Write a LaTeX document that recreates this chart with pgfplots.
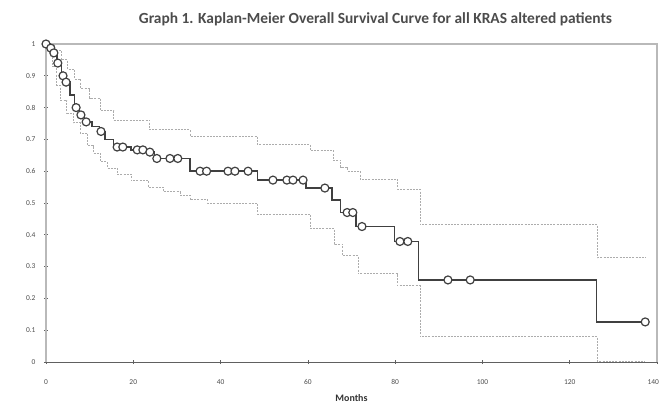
\documentclass[border=0pt]{standalone}
\usepackage{fontspec}
\setmainfont{Carlito}
\usepackage{pgfplots}
\pgfplotsset{compat=1.18}
\begin{document}
\begin{tikzpicture}
\path[use as bounding box] (-46bp,-42bp) rectangle (615bp,362bp);
\begin{axis}[
  at={(0,0)}, anchor=south west,
  scale only axis, width=611bp, height=318bp,
  xmin=0, xmax=140, ymin=0, ymax=1,
  axis lines=left,
  axis line style={-, gray!75!black, line width=0.9bp},
  xtick={0,20,40,60,80,100,120,140},
  xticklabels={0,20,40,60,80,100,120,{\llap{14}0}},
  ytick={0,0.1,0.2,0.3,0.4,0.5,0.6,0.7,0.8,0.9,1},
  yticklabels={0,0.1,0.2,0.3,0.4,0.5,0.6,0.7,0.8,0.9,1},
  tick align=center, major tick length=4bp,
  tick style={gray!75!black, line width=0.6bp},
  /pgf/number format/assume math mode=true,
  ticklabel style={font=\fontsize{7.5}{9}\selectfont, text=gray!60!black},
  xticklabel style={yshift=-12bp},
  yticklabel style={xshift=-5bp},
  xlabel={Months},
  xlabel style={at={(axis description cs:0.5,0)}, anchor=center, yshift=-36bp, font=\bfseries\fontsize{10}{12}\selectfont, text=black!80},
  clip=false,
]
\draw[gray!55, line width=1.3bp] (rel axis cs:0,0) -- (rel axis cs:0,1) -- (rel axis cs:1,1) -- (rel axis cs:1,0);
% upper confidence limit
\addplot[const plot, gray!65, line width=0.9bp, dash pattern=on 2bp off 1.2bp] coordinates {
(0,1) (2,0.98) (3.5,0.95) (5,0.92) (6.5,0.89) (8,0.86) (10,0.83) (12.4,0.79)
(15.5,0.76) (23.8,0.73) (33,0.71) (48.4,0.685) (60.5,0.666) (65.8,0.635)
(67.5,0.613) (69,0.6) (72,0.575) (80.5,0.544) (85.7,0.432) (126.3,0.328) (137.3,0.328)};
% lower confidence limit
\addplot[const plot, gray!65, line width=0.9bp, dash pattern=on 2bp off 1.2bp] coordinates {
(0,1) (1.5,0.93) (2.5,0.87) (3.2,0.824) (4.8,0.783) (6.2,0.752) (7.8,0.72)
(9.5,0.68) (10.8,0.657) (12.4,0.63) (14,0.61) (16.3,0.59) (19.5,0.57)
(23.5,0.55) (26.8,0.535) (30.7,0.525) (33,0.51) (37,0.5) (48.4,0.465)
(60.5,0.42) (66,0.37) (68,0.334) (71.5,0.278) (80.5,0.24) (85.7,0.079)
(126.3,0.003) (137.3,0.003)};
% survival
\addplot[const plot, black!75, line width=1.4bp] coordinates {
(0,1) (1.0,0.987) (1.6,0.972) (2.5,0.94) (3.5,0.90) (4.3,0.88) (5.5,0.84)
(6.5,0.80) (7.7,0.777) (8.8,0.755) (10.5,0.74) (12.2,0.725) (13.5,0.70)
(15.5,0.676) (19.5,0.667) (23.0,0.66) (24.8,0.64) (33.0,0.60) (48.4,0.572)
(59.6,0.547) (65.5,0.51) (67.5,0.47) (71.0,0.426) (79.9,0.379) (85.4,0.258)
(126.2,0.126) (137.3,0.126)};
% censored
\addplot[only marks, mark=*, mark size=4bp, mark options={fill=white, draw=black!75, line width=1.2bp}] coordinates {
(0,1.0) (1.1,0.987) (1.8,0.972) (2.7,0.94) (3.9,0.90) (4.6,0.88) (6.9,0.80)
(8.0,0.777) (9.2,0.755) (12.6,0.725) (16.3,0.676) (17.6,0.676) (20.9,0.667)
(22.2,0.667) (23.8,0.66) (25.4,0.64) (28.4,0.64) (30.2,0.64) (35.3,0.6)
(36.8,0.6) (41.7,0.6) (43.3,0.6) (46.3,0.6) (52.0,0.572) (55.2,0.572)
(56.6,0.572) (58.9,0.572) (63.9,0.547) (69.0,0.47) (70.3,0.47) (72.4,0.426)
(81.1,0.379) (82.9,0.379) (92.1,0.258) (97.2,0.258) (137.3,0.126)};
\end{axis}
\node[font=\bfseries\fontsize{15.5}{18}\selectfont, text=black!70] at (329.5bp,343bp)
  {Graph 1. Kaplan-Meier Overall Survival Curve for all KRAS altered patients};
\end{tikzpicture}
\end{document}
